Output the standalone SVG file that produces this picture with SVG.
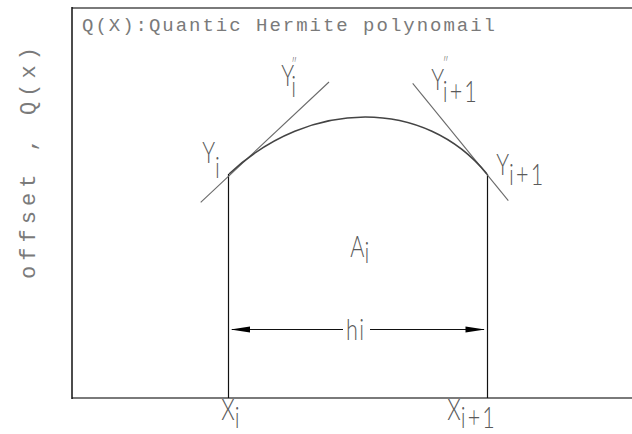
<svg xmlns="http://www.w3.org/2000/svg" width="632" height="434" viewBox="0 0 632 434">
<style>
.lbl{font-family:Lato,"Liberation Sans",sans-serif;font-weight:300;fill:#5a5a5a;font-size:30px}
.sub{letter-spacing:3px}
.pp{font-size:16px}
.ttl{font-family:"Liberation Mono","DejaVu Sans Mono",monospace;fill:#7a7a7a;font-size:19px}
.axl{font-family:"Liberation Mono","DejaVu Sans Mono",monospace;fill:#7a7a7a;font-size:22px}
.frame-g{stroke:#7a7a7a;stroke-width:2;fill:none}
.frame-k{stroke:#111;stroke-width:1.5;fill:none}
.ln{stroke:#111;stroke-width:1.2;fill:none}
.tan{stroke:#6a6a6a;stroke-width:1.1;fill:none}
.crv{stroke:#444;stroke-width:1.6;fill:none}
.arr{fill:#000}
</style>
<rect width="632" height="434" fill="#fff"/>
<g id="frame">
<line class="frame-g" x1="72" y1="8" x2="632" y2="8"/>
<line class="frame-g" x1="72" y1="398" x2="632" y2="398"/>
<line class="frame-k" x1="72" y1="7" x2="72" y2="399"/>
</g>
<g id="title"><text class="ttl" x="82" y="31" textLength="413" lengthAdjust="spacing">Q(X):Quantic Hermite polynomail</text></g>
<g id="yaxis-label"><text class="axl" transform="translate(35,163) rotate(-90)" text-anchor="middle" textLength="232" lengthAdjust="spacing">offset , Q(x)</text></g>
<g id="connectors">
<line class="ln" x1="228.5" y1="174" x2="228.5" y2="398"/>
<line class="ln" x1="487.5" y1="174" x2="487.5" y2="398"/>
<line class="tan" x1="200.7" y1="202.3" x2="329" y2="82"/>
<line class="tan" x1="412.7" y1="83.3" x2="508.3" y2="200.7"/>
<path class="crv" d="M229,174 C310,98 425,98 487,174"/>
<line class="ln" x1="232" y1="329.5" x2="343" y2="329.5"/>
<line class="ln" x1="370" y1="329.5" x2="484" y2="329.5"/>
<polygon class="arr" points="230.5,329.5 250,326.5 250,332.5"/>
<polygon class="arr" points="485,329.5 465.5,326.5 465.5,332.5"/>
</g>
<g id="label-Yi"><g transform="translate(203,163) scale(0.72,1)"><text class="lbl" x="-1" y="0">Y<tspan dy="15">i</tspan></text></g></g>
<g id="label-Ypp-i"><g transform="translate(282,86) scale(0.72,1)"><text class="lbl" x="-1" y="0">Y<tspan class="pp" dx="-4" dy="-16">″</tspan><tspan dx="-8" dy="27">i</tspan></text></g></g>
<g id="label-Ypp-i1"><g transform="translate(432,90) scale(0.72,1)"><text class="lbl" x="-1" y="0">Y<tspan class="pp" dx="-2" dy="-21">″</tspan><tspan class="sub" dx="-8" dy="33">i+1</tspan></text></g></g>
<g id="label-Yi1"><g transform="translate(497,175) scale(0.72,1)"><text class="lbl" x="-1" y="0">Y<tspan class="sub" dy="10">i+1</tspan></text></g></g>
<g id="label-Ai"><g transform="translate(351,257) scale(0.72,1)"><text class="lbl" x="-1" y="0">A<tspan dy="6">i</tspan></text></g></g>
<g id="label-hi"><g transform="translate(346,340) scale(0.72,1)"><text class="lbl" x="0" y="0" letter-spacing="2">hi</text></g></g>
<g id="label-Xi"><g transform="translate(222,420) scale(0.72,1)"><text class="lbl" x="-1" y="0">X<tspan dy="8">i</tspan></text></g></g>
<g id="label-Xi1"><g transform="translate(448,420) scale(0.72,1)"><text class="lbl" x="-1" y="0">X<tspan class="sub" dy="8">i+1</tspan></text></g></g>
</svg>
